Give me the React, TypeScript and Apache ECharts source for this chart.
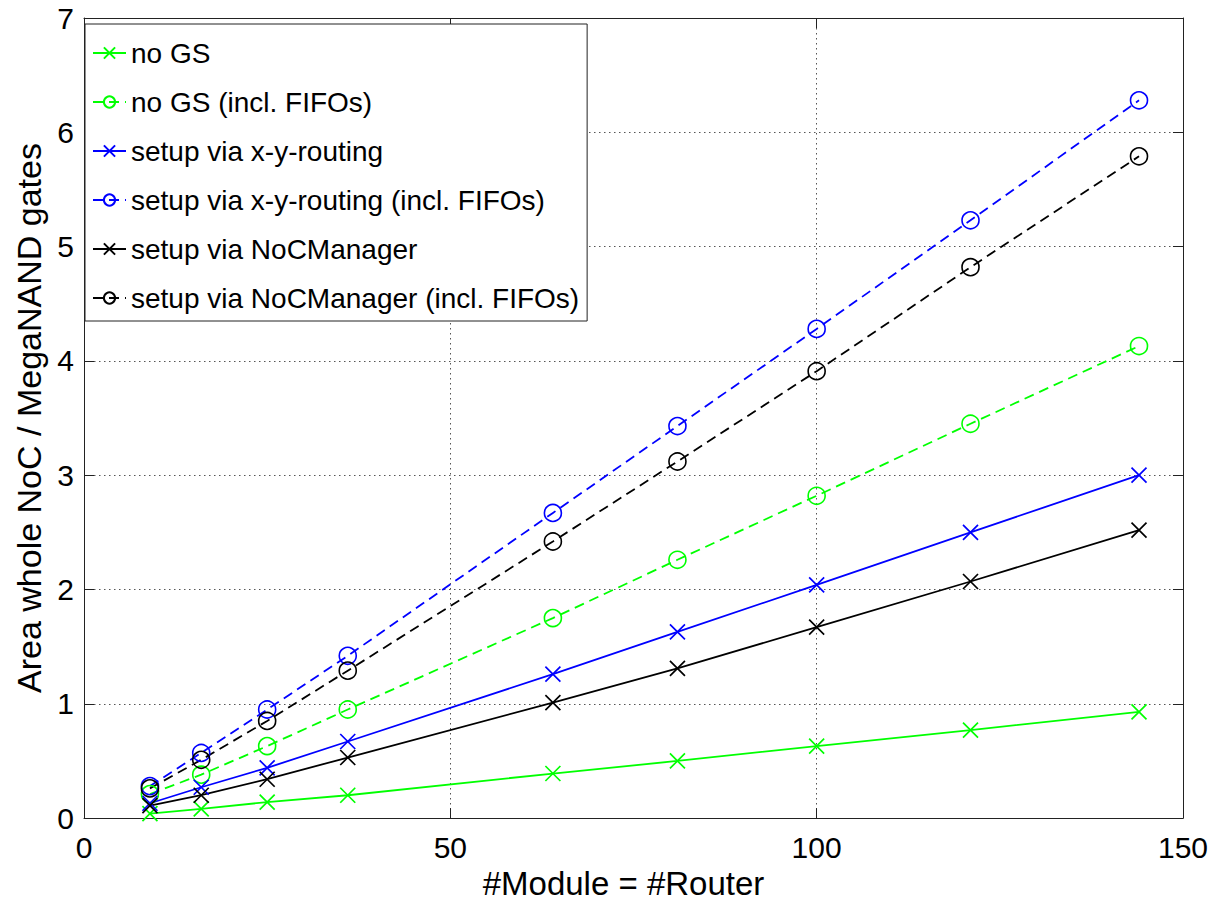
import React, { useEffect, useRef } from "react";
import * as echarts from "echarts";

const modules = [9, 16, 25, 36, 64, 81, 100, 121, 144];
const noGS = [0.04, 0.08, 0.14, 0.2, 0.39, 0.5, 0.63, 0.77, 0.93];
const noGSFifo = [0.21, 0.38, 0.63, 0.95, 1.75, 2.26, 2.82, 3.45, 4.13];
const xyRouting = [0.13, 0.27, 0.44, 0.67, 1.26, 1.63, 2.04, 2.5, 3.0];
const xyRoutingFifo = [0.28, 0.57, 0.95, 1.42, 2.67, 3.43, 4.28, 5.23, 6.28];
const nocManager = [0.11, 0.2, 0.34, 0.53, 1.01, 1.31, 1.67, 2.07, 2.52];
const nocManagerFifo = [0.26, 0.51, 0.85, 1.29, 2.42, 3.12, 3.91, 4.82, 5.79];

const seriesNames = [
  "no GS",
  "no GS (incl. FIFOs)",
  "setup via x-y-routing",
  "setup via x-y-routing (incl. FIFOs)",
  "setup via NoCManager",
  "setup via NoCManager (incl. FIFOs)",
];

const FONT = "'Liberation Sans', Arial, Helvetica, sans-serif";
const CROSS = "path://M0,0L10,10M10,0L0,10";

function mkSeries(name: string, values: number[], color: string, fifo: boolean) {
  return {
    name,
    type: "line",
    data: modules.map((m, i) => [m, values[i]]),
    symbol: fifo ? "circle" : CROSS,
    symbolSize: fifo ? 17 : 15,
    showSymbol: true,
    itemStyle: fifo
      ? { color: "rgba(0,0,0,0)", borderColor: color, borderWidth: 1.6 }
      : { color: color, borderColor: color, borderWidth: 1.7 },
    lineStyle: { color, width: 1.8, type: fifo ? [10, 6] : "solid" },
    emphasis: { disabled: true },
  };
}

export default function App() {
  const ref = useRef<HTMLDivElement>(null);
  useEffect(() => {
    if (!ref.current) return;
    const chart = echarts.init(ref.current, undefined, { renderer: "svg" });
    const axisCommon = {
      axisLine: { show: true, onZero: false, lineStyle: { color: "#222", width: 1 } },
      axisTick: { show: true, inside: true, length: 10, lineStyle: { color: "#222" } },
    };
    chart.setOption({
      animation: false,
      backgroundColor: "#fff",
      textStyle: { fontFamily: FONT },
      grid: { left: 84, top: 18, right: 28, bottom: 81, containLabel: false },
      legend: {
        orient: "vertical",
        left: 85,
        top: 24,
        padding: [14, 8, 8, 7],
        itemGap: 19,
        itemWidth: 33,
        itemHeight: 14,
        backgroundColor: "#fff",
        borderColor: "#222",
        borderWidth: 1,
        borderRadius: 0,
        data: seriesNames,
        textStyle: { fontFamily: FONT, fontSize: 28, color: "#000", lineHeight: 30 },
        z: 10,
      },
      xAxis: [
        {
          type: "value",
          min: 0,
          max: 150,
          interval: 50,
          name: "#Module = #Router",
          nameLocation: "middle",
          nameGap: 47,
          nameTextStyle: { fontFamily: FONT, fontSize: 33, color: "#000", padding: [0, 20, 0, 0] },
          ...axisCommon,
          axisLabel: { fontFamily: FONT, fontSize: 30, color: "#000", margin: 14 },
          splitLine: { show: true, lineStyle: { color: "#555", type: [1.5, 3.5], width: 1 } },
        },
        {
          type: "value",
          position: "top",
          min: 0,
          max: 150,
          interval: 50,
          ...axisCommon,
          axisLabel: { show: false },
          splitLine: { show: false },
        },
      ],
      yAxis: [
        {
          type: "value",
          min: 0,
          max: 7,
          interval: 1,
          name: "Area whole NoC / MegaNAND gates",
          nameLocation: "middle",
          nameGap: 32,
          nameRotate: 90,
          nameTextStyle: { fontFamily: FONT, fontSize: 34, color: "#000" },
          ...axisCommon,
          axisLabel: { fontFamily: FONT, fontSize: 30, color: "#000", margin: 10 },
          splitLine: { show: true, lineStyle: { color: "#555", type: [1.5, 3.5], width: 1 } },
        },
        {
          type: "value",
          position: "right",
          min: 0,
          max: 7,
          interval: 1,
          ...axisCommon,
          axisLabel: { show: false },
          splitLine: { show: false },
        },
      ],
      series: [
        mkSeries(seriesNames[0], noGS, "#00ff00", false),
        mkSeries(seriesNames[1], noGSFifo, "#00ff00", true),
        mkSeries(seriesNames[2], xyRouting, "#0000ff", false),
        mkSeries(seriesNames[3], xyRoutingFifo, "#0000ff", true),
        mkSeries(seriesNames[4], nocManager, "#000000", false),
        mkSeries(seriesNames[5], nocManagerFifo, "#000000", true),
      ],
    });
    return () => chart.dispose();
  }, []);
  return (
    <div
      ref={ref}
      style={{ position: "fixed", left: 0, top: 0, width: 1211, height: 905, background: "#fff" }}
    />
  );
}
